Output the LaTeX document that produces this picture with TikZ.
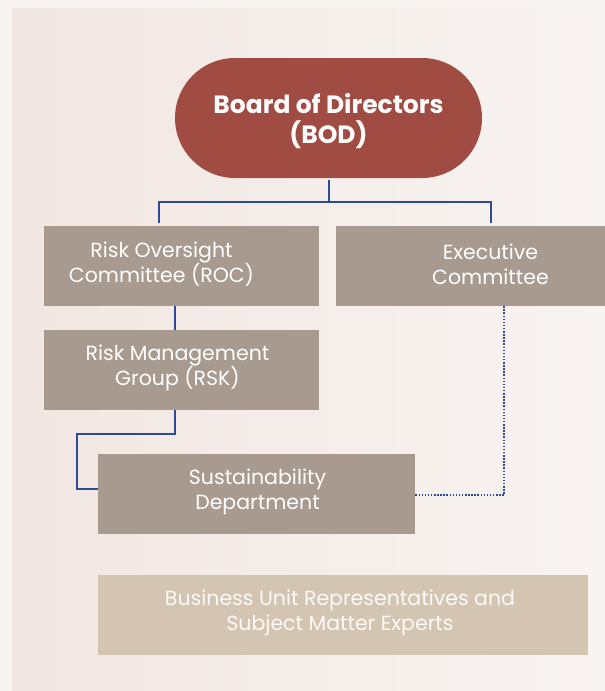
\documentclass[tikz,border=0pt]{standalone}
\usepackage{fontspec}
\setmainfont{Poppins}
\begin{document}
\begin{tikzpicture}[x=1pt,y=-1pt,
  box/.style={fill=boxc, draw=none, inner sep=0pt},
  boxtext/.style={text=white, font=\fontsize{20.5}{25}\selectfont, align=center},
  link/.style={draw=linec, line width=1.3pt},
  dotlink/.style={draw=linec, line width=1.3pt, dash pattern=on 1.5pt off 1.6pt}]
\definecolor{boxc}{HTML}{A89A8F}
\definecolor{bodc}{HTML}{A04C42}
\definecolor{busc}{HTML}{D3C5B2}
\definecolor{linec}{HTML}{2E4A94}
\definecolor{outerbg}{HTML}{F8F4F2}
\definecolor{bgl}{HTML}{F1E6E1}
\definecolor{bgr}{HTML}{F8F4F2}
\useasboundingbox (0,0) rectangle (605,691);
\fill[outerbg] (0,0) rectangle (605,691);
\shade[left color=bgl, right color=bgr] (12,8) rectangle (605,691);
% BOD
\node[fill=bodc, rounded corners=60pt, minimum width=307pt, minimum height=120pt, inner sep=0pt,
  label={[text=white, font=\bfseries\fontsize{25}{30}\selectfont, align=center, yshift=-3.5pt]center:Board of Directors\\(BOD)}] (bod) at (328.5,118) {};
% boxes
\node[box, minimum width=275pt, minimum height=80pt,
  label={[boxtext, xshift=-20pt, yshift=2pt]center:Risk Oversight\\Committee (ROC)}] (roc) at (181.5,266) {};
\node[box, minimum width=269pt, minimum height=80pt,
  label={[boxtext, xshift=20pt, yshift=2pt]center:Executive\\Committee}] (exe) at (470.5,266) {};
\node[box, minimum width=275pt, minimum height=80pt,
  label={[boxtext, xshift=-4pt, yshift=2pt]center:Risk Management\\Group (RSK)}] (rsk) at (181.5,370) {};
\node[box, minimum width=317pt, minimum height=80pt,
  label={[boxtext, xshift=1pt, yshift=2pt]center:Sustainability\\Department}] (sus) at (256.5,494) {};
\node[fill=busc, inner sep=0pt, minimum width=490pt, minimum height=80pt,
  label={[text=white!92!busc, font=\fontsize{20.5}{25}\selectfont, align=center, xshift=-3pt, yshift=2pt]center:Business Unit Representatives and\\Subject Matter Experts}] (bus) at (343,615) {};
% connectors
\coordinate (j) at (329,202);
\draw[link] (329,180) -- (j);
\draw[link] (159,223) |- (j) -| (491,223);
\draw[link] (roc.south -| 175,0) -- (rsk.north -| 175,0);
\draw[link] (rsk.south -| 175,0) |- (77,434) |- (sus.west |- 0,489);
\draw[dotlink] (exe.south -| 504,0) |- (sus.east |- 0,495);
\end{tikzpicture}
\end{document}
